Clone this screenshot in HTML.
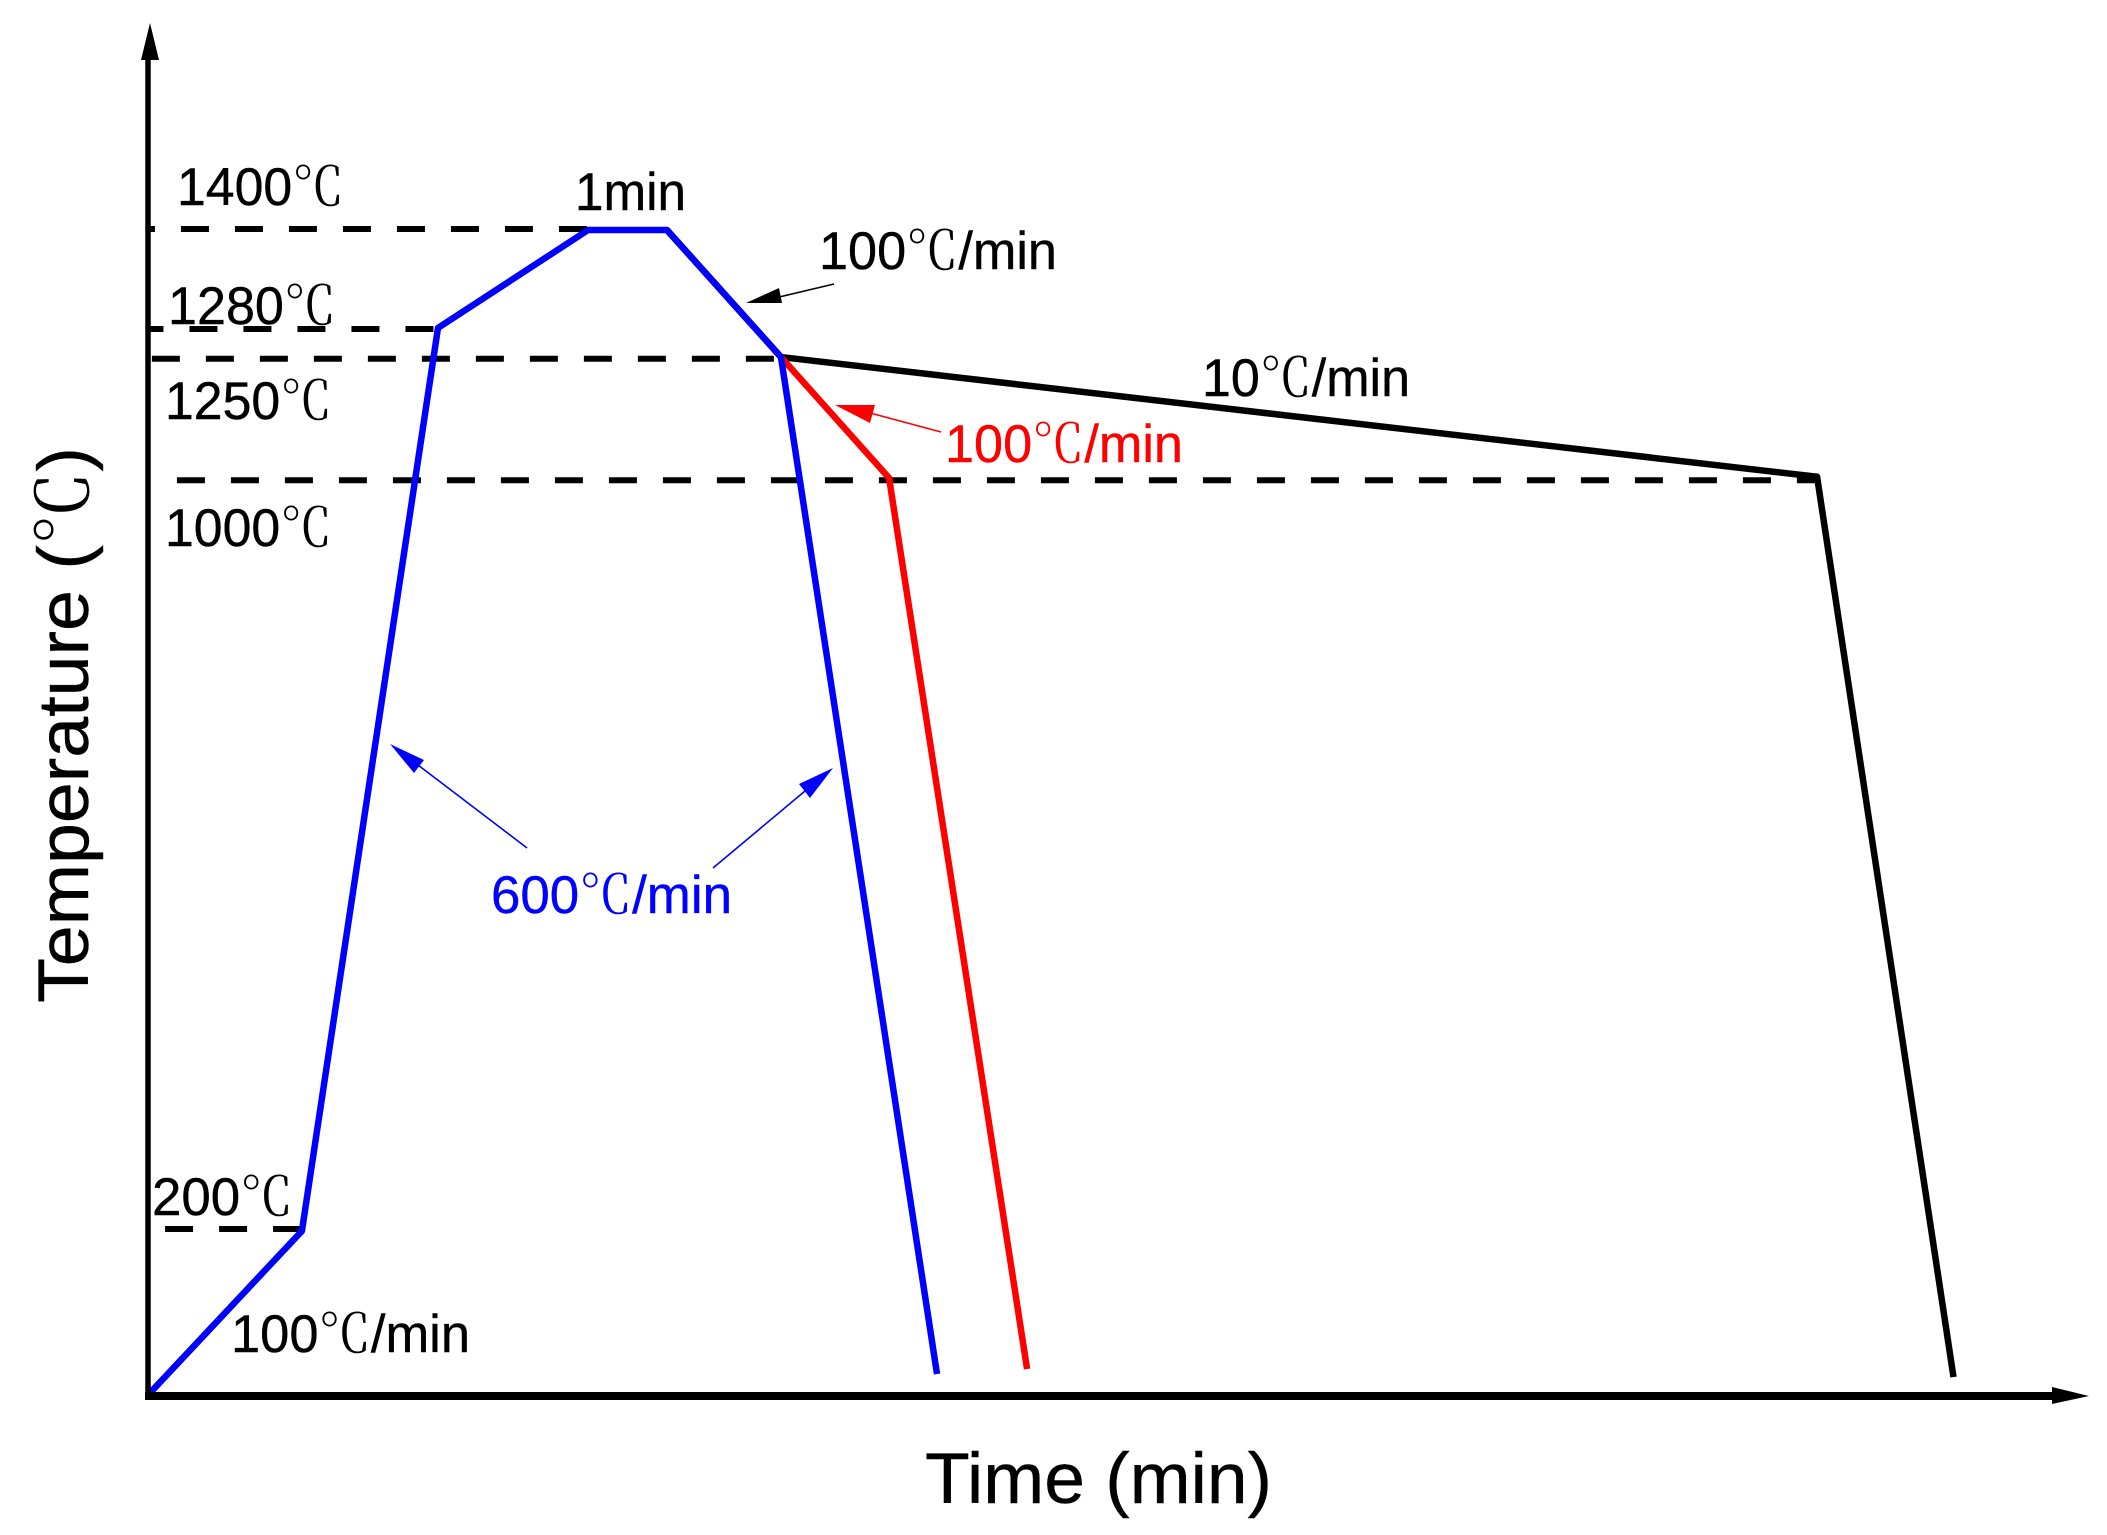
<!DOCTYPE html>
<html lang="en">
<head>
<meta charset="utf-8">
<title>Heat treatment schedule</title>
<style>
html,body{margin:0;padding:0;background:#fff;width:2107px;height:1535px;overflow:hidden}
svg{display:block}
text{font-family:"Liberation Sans","Noto Serif CJK SC",serif;font-size:53px;fill:#000;stroke:#000;stroke-width:.4}
.b{fill:#0000ff;stroke:#0000ff}.r{fill:#ff0000;stroke:#ff0000}
.t{font-size:71px}
.c{stroke:none}
</style>
</head>
<body>
<svg id="chart" xmlns="http://www.w3.org/2000/svg" width="2107" height="1535" viewBox="0 0 2107 1535">
<rect width="2107" height="1535" fill="#fff"/>
<g id="levels"></g>
<g id="series"></g>
<g>
<line x1="148" y1="1400" x2="148" y2="50" stroke="#000" stroke-width="5.5"/>
<polygon points="150,23 159,60 141,60" fill="#000"/>
<line x1="145" y1="1396" x2="2060" y2="1396" stroke="#000" stroke-width="8"/>
<polygon points="2089,1396 2052,1387 2052,1404" fill="#000"/>
</g>
<g>
<line x1="834" y1="284" x2="775" y2="298" stroke="#000" stroke-width="1.6"/>
<polygon points="746,303 779,288 782,303" fill="#000"/>
<line x1="941" y1="432" x2="870" y2="413" stroke="#f00" stroke-width="1.6"/>
<polygon points="835,405 875,405 870,423" fill="#f00"/>
<line x1="527" y1="848" x2="418" y2="765" stroke="#00f" stroke-width="1.6"/>
<polygon points="390,744 424,760 414,773" fill="#00f"/>
<line x1="713" y1="868" x2="805" y2="791" stroke="#00f" stroke-width="1.6"/>
<polygon points="833,768 799,784 810,798" fill="#00f"/>
</g>
<g>
<text x="177" y="205" textLength="167" lengthAdjust="spacingAndGlyphs">1400<tspan class="c">℃</tspan></text>
<text x="575" y="210" textLength="111" lengthAdjust="spacingAndGlyphs">1min</text>
<text x="819" y="269" textLength="238" lengthAdjust="spacingAndGlyphs">100<tspan class="c">℃</tspan>/min</text>
<text x="168" y="324" textLength="168" lengthAdjust="spacingAndGlyphs">1280<tspan class="c">℃</tspan></text>
<text x="165" y="419" textLength="167" lengthAdjust="spacingAndGlyphs">1250<tspan class="c">℃</tspan></text>
<text x="165" y="546" textLength="167" lengthAdjust="spacingAndGlyphs">1000<tspan class="c">℃</tspan></text>
<text x="1202" y="396" textLength="208" lengthAdjust="spacingAndGlyphs">10<tspan class="c">℃</tspan>/min</text>
<text class="r" x="945" y="462" textLength="238" lengthAdjust="spacingAndGlyphs">100<tspan class="c">℃</tspan>/min</text>
<text class="b" x="491" y="913" textLength="241" lengthAdjust="spacingAndGlyphs">600<tspan class="c">℃</tspan>/min</text>
<text x="152" y="1215" textLength="141" lengthAdjust="spacingAndGlyphs">200<tspan class="c">℃</tspan></text>
<text x="231" y="1352" textLength="239" lengthAdjust="spacingAndGlyphs">100<tspan class="c">℃</tspan>/min</text>
<text class="t" x="925" y="1503" textLength="347" lengthAdjust="spacingAndGlyphs">Time (min)</text>
<text class="t" transform="translate(88,1003) rotate(-90)" x="0" y="0" textLength="556" lengthAdjust="spacingAndGlyphs">Temperature (<tspan class="c">℃</tspan>)</text>
</g>
</svg>
<script>
// Schematic units: time 0-100, height 0-100 along the axes.
const blueTime = [0.1, 7.93, 14.94, 22.67, 26.74, 32.61, 40.65];
const blueLevel = [0.22, 12.02, 77.79, 84.92, 84.92, 75.67, 1.6];
const redTime = [26.74, 32.61, 38.18, 45.29];
const redLevel = [84.92, 75.67, 66.86, 1.97];
const blackTime = [26.74, 32.61, 85.99, 93.02];
const blackLevel = [84.92, 75.67, 66.95, 1.38];
const refLevelLabels = ['1400', '1280', '1250', '1000', '200'];
const refLevels = [85.0, 77.71, 75.55, 66.7, 12.16];
const refStart = [0.1, 0.1, 0.2, 1.49, 0.88];
const refEnd = [22.67, 14.99, 32.61, 85.99, 7.93];

const xScale = function (t) { return 148 + t * 19.41; };
const yScale = function (v) { return 1396 - v * 13.73; };
const NS = 'http://www.w3.org/2000/svg';
const dashPeriod = 54;
const dashPhase = { '1400': 23, '1280': 14.5 };

const levelsGroup = document.getElementById('levels');
refLevels.forEach(function (v, i) {
  const x1 = xScale(refStart[i]);
  const line = document.createElementNS(NS, 'line');
  
  
  line.setAttribute('x1', x1);
  line.setAttribute('x2', xScale(refEnd[i]));
  line.setAttribute('y1', yScale(v));
  line.setAttribute('y2', yScale(v));
  line.setAttribute('stroke', '#000');
  line.setAttribute('stroke-width', '6');
  line.setAttribute('stroke-dasharray', '28 ' + (dashPeriod - 28));
  line.setAttribute('stroke-dashoffset', dashPhase[refLevelLabels[i]] || 0);
  levelsGroup.appendChild(line);
});

function drawSeries(name, times, levels, color, width) {
  const pl = document.createElementNS(NS, 'polyline');
  
  
  pl.setAttribute('points', times.map(function (t, i) { return xScale(t) + ',' + yScale(levels[i]); }).join(' '));
  pl.setAttribute('fill', 'none');
  pl.setAttribute('stroke', color);
  pl.setAttribute('stroke-width', width);
  pl.setAttribute('stroke-linejoin', 'round');
  document.getElementById('series').appendChild(pl);
}
drawSeries('series-black-slow-cool', blackTime, blackLevel, '#000', 6.5);
drawSeries('series-red-medium-cool', redTime, redLevel, '#f00', 6.5);
drawSeries('series-blue-fast-cool', blueTime, blueLevel, '#00f', 6.5);
</script>
</body>
</html>
